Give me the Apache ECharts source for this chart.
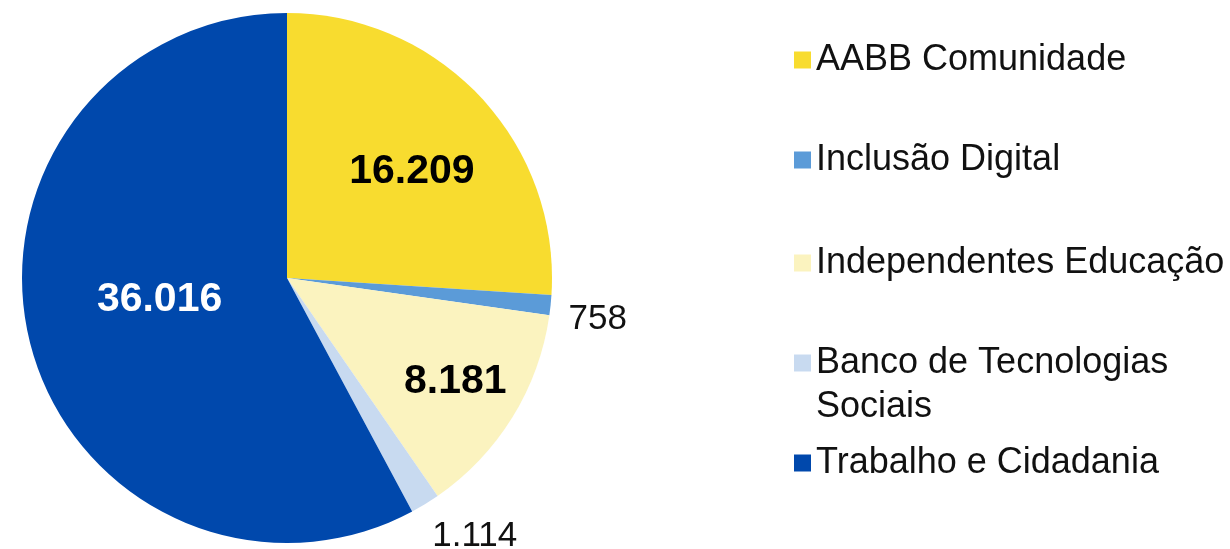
<!DOCTYPE html>
<html>
<head>
<meta charset="utf-8">
<script src="https://cdn.jsdelivr.net/npm/echarts@6/dist/echarts.min.js"></script>
<style>
  html, body { margin: 0; padding: 0; background: #ffffff; }
  #chart { width: 1230px; height: 549px; }
</style>
</head>
<body>
<div id="chart"></div>
<script>
// Projetos por programa
const categories = [
  'AABB Comunidade',
  'Inclusão Digital',
  'Independentes Educação',
  'Banco de Tecnologias Sociais',
  'Trabalho e Cidadania'
];
const values = [16209, 758, 8181, 1114, 36016];
const colors = ['#F8DC2F', '#5B9BD8', '#FBF3BF', '#C8DAF0', '#0048AC'];

const FONT = '"Liberation Sans", Arial, sans-serif';

// number formatting with "." as thousands separator
function fmt(v) {
  return String(v).replace(/\B(?=(\d{3})+(?!\d))/g, '.');
}

// per-slice label styling
const insideBold = { fontSize: 41, fontWeight: 'bold', fontFamily: FONT };
const outsideReg = { position: 'outside', color: '#111', fontSize: 35, fontFamily: FONT };
const labelStyles = [
  Object.assign({ position: 'inside', color: '#000', offset: [26, -14] }, insideBold),
  Object.assign({ offset: [-3, 13] }, outsideReg),
  Object.assign({ position: 'inside', color: '#000', offset: [53, 32] }, insideBold),
  Object.assign({ offset: [-10, 25] }, outsideReg),
  Object.assign({ position: 'inside', color: '#fff', offset: [4, -11] }, insideBold)
];

const data = categories.map((name, i) => ({
  name: name,
  value: values[i],
  itemStyle: { color: colors[i] },
  label: labelStyles[i]
}));

// one legend block per entry so each row sits at its own height;
// the two-line entry gets a blank lead line so its swatch lines up with the first line
const legendTops = [33, 133, 236, 292, 436];
const legends = categories.map((name, i) => ({
  data: [name],
  left: 789,
  top: legendTops[i],
  orient: 'vertical',
  icon: 'rect',
  itemWidth: 17,
  itemHeight: 17,
  selectedMode: false,
  formatter: name === 'Banco de Tecnologias Sociais'
    ? ' \nBanco de Tecnologias\nSociais' : '{name}',
  textStyle: {
    fontSize: 36,
    fontFamily: FONT,
    color: '#111',
    lineHeight: 44
  }
}));

const chart = echarts.init(document.getElementById('chart'), null, { renderer: 'canvas' });
chart.setOption({
  animation: false,
  backgroundColor: '#ffffff',
  legend: legends,
  series: [{
    type: 'pie',
    center: [287, 278],
    radius: 265,
    startAngle: 90,
    clockwise: true,
    avoidLabelOverlap: false,
    itemStyle: { borderWidth: 0 },
    label: {
      show: true,
      formatter: p => fmt(p.value)
    },
    labelLine: { show: false, length: 8, length2: 8 },
    emphasis: { disabled: true },
    data: data
  }]
});
</script>
</body>
</html>
